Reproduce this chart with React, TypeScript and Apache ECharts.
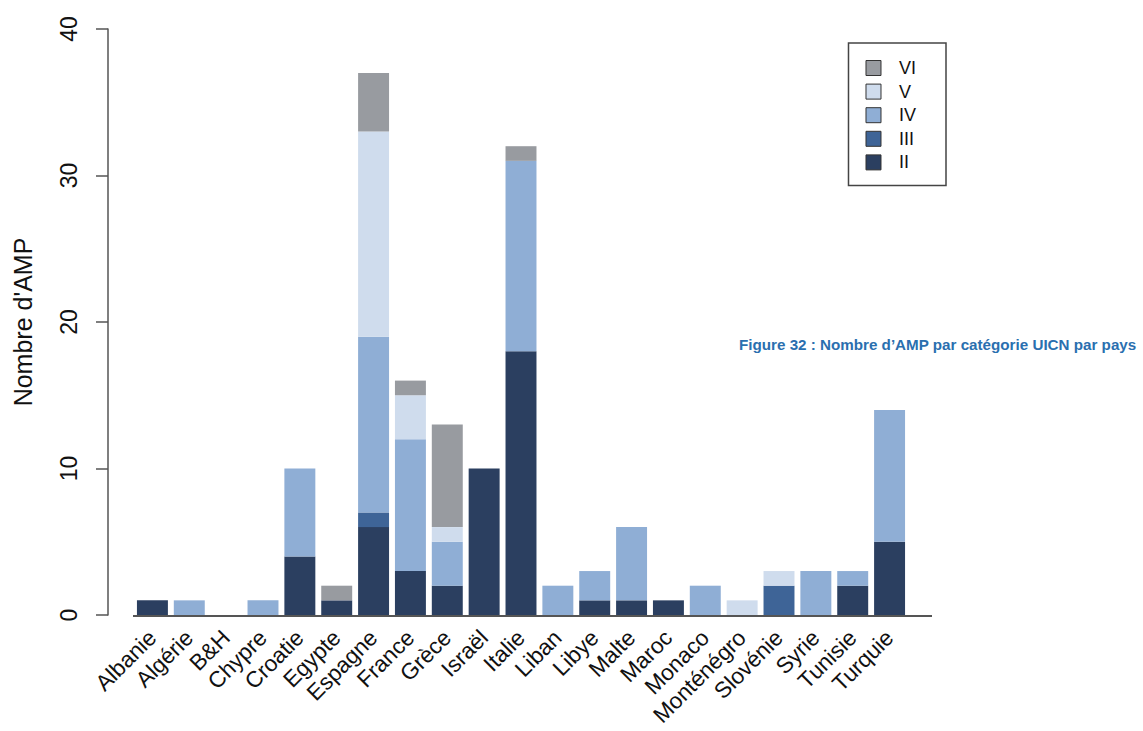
import React, { useEffect, useRef } from "react";
import * as echarts from "echarts";

const countries = ["Albanie", "Algérie", "B&H", "Chypre", "Croatie", "Egypte", "Espagne", "France", "Grèce", "Israël", "Italie", "Liban", "Libye", "Malte", "Maroc", "Monaco", "Monténégro", "Slovénie", "Syrie", "Tunisie", "Turquie"];
const catII = [1, 0, 0, 0, 4, 1, 6, 3, 2, 10, 18, 0, 1, 1, 1, 0, 0, 0, 0, 2, 5];
const catIII = [0, 0, 0, 0, 0, 0, 1, 0, 0, 0, 0, 0, 0, 0, 0, 0, 0, 2, 0, 0, 0];
const catIV = [0, 1, 0, 1, 6, 0, 12, 9, 3, 0, 13, 2, 2, 5, 0, 2, 0, 0, 3, 1, 9];
const catV = [0, 0, 0, 0, 0, 0, 14, 3, 1, 0, 0, 0, 0, 0, 0, 0, 1, 1, 0, 0, 0];
const catVI = [0, 0, 0, 0, 0, 1, 4, 1, 7, 0, 1, 0, 0, 0, 0, 0, 0, 0, 0, 0, 0];
const yTicks = [0, 10, 20, 30, 40];

const seriesDefs = [
  { name: "II", data: catII, color: "#2b3f60" },
  { name: "III", data: catIII, color: "#3e6497" },
  { name: "IV", data: catIV, color: "#8faed5" },
  { name: "V", data: catV, color: "#cfdced" },
  { name: "VI", data: catVI, color: "#989ba0" },
];

export default function App() {
  const ref = useRef<HTMLDivElement>(null);
  useEffect(() => {
    if (!ref.current) return;
    const chart = echarts.init(ref.current, undefined, { renderer: "svg" });
    const font = "'Liberation Sans', Arial, Helvetica, sans-serif";
    chart.setOption({
      animation: false,
      textStyle: { fontFamily: font },
      grid: {
        left: 134,
        right: 1143 - 908,
        top: 29,
        bottom: 116,
        containLabel: false,
        outerBoundsMode: "none",
      },
      legend: {
        orient: "vertical",
        right: 1143 - 946,
        top: 43,
        data: ["VI", "V", "IV", "III", "II"],
        itemWidth: 15,
        itemHeight: 15,
        itemGap: 5.6,
        padding: [16, 30, 14, 17],
        borderColor: "#444",
        borderWidth: 1.5,
        icon: "rect",
        itemStyle: { borderColor: "#333", borderWidth: 1 },
        textStyle: { fontSize: 18, color: "#111", fontFamily: font, padding: [0, 0, 0, 13] },
      },
      xAxis: {
        type: "category",
        data: countries,
        axisLine: { show: false },
        axisTick: { show: false },
        axisLabel: {
          rotate: 45,
          interval: 0,
          fontSize: 22.5,
          color: "#111",
          margin: 19,
          fontFamily: font,
        },
      },
      yAxis: {
        type: "value",
        min: 0,
        max: 40,
        interval: 10,
        offset: 26,
        name: "Nombre d'AMP",
        nameLocation: "middle",
        nameGap: 73,
        nameRotate: 90,
        nameTextStyle: { fontSize: 25, color: "#111", fontFamily: font },
        splitLine: { show: false },
        axisLine: { show: true, lineStyle: { color: "#555", width: 1.5 } },
        axisTick: { show: true, length: 12, lineStyle: { color: "#555", width: 1.5 } },
        axisLabel: {
          rotate: 90,
          fontSize: 23,
          color: "#111",
          margin: 28,
          fontFamily: font,
          formatter: (v: number) => (yTicks.includes(v) ? String(v) : ""),
        },
      },
      series: seriesDefs.map((s) => ({
        name: s.name,
        type: "bar",
        stack: "total",
        data: s.data,
        barCategoryGap: "16%",
        itemStyle: { color: s.color },
      })),
      graphic: [
        {
          type: "line",
          shape: { x1: 133, y1: 616, x2: 932, y2: 616 },
          style: { stroke: "#555", lineWidth: 2 },
          z: 10,
        },
        {
          type: "text",
          x: 739,
          y: 344,
          style: {
            text: "Figure 32 : Nombre d’AMP par catégorie UICN par pays",
            fill: "#2a6faf",
            font: "bold 15.2px " + font,
            verticalAlign: "middle",
          },
        },
      ],
    });
    return () => chart.dispose();
  }, []);
  return (
    <div
      ref={ref}
      style={{ position: "fixed", left: 0, top: 0, width: 1143, height: 731, background: "#fff" }}
    />
  );
}
